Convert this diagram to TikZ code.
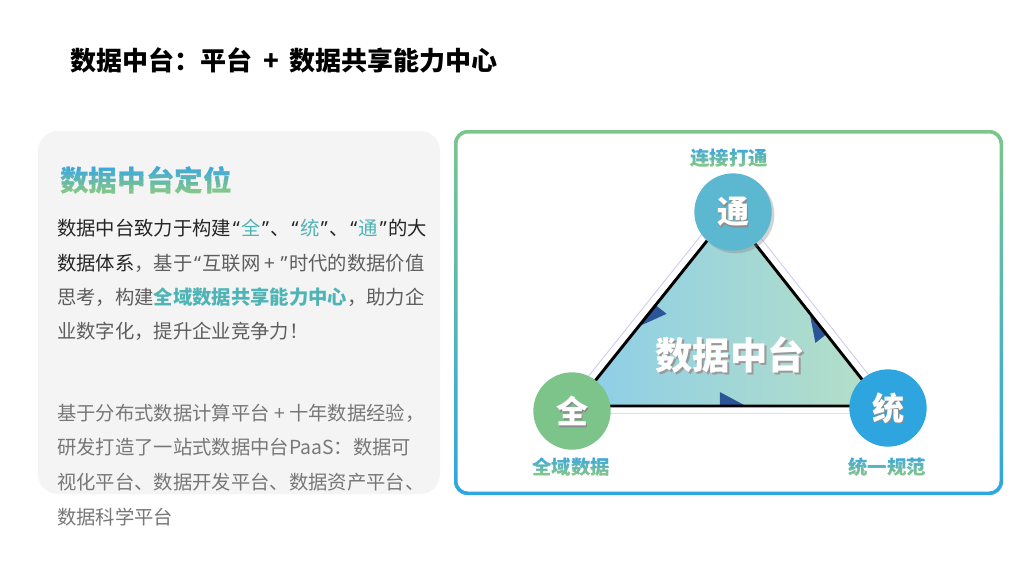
\documentclass[tikz,border=0pt]{standalone}
\usepackage{fontspec}
\setmainfont{Noto Sans CJK SC}
\newfontfamily\latf{Noto Sans}
\usetikzlibrary{calc,shadows}
\definecolor{dk}{HTML}{262626}
\definecolor{gr}{HTML}{5E5E5E}
\definecolor{lg}{HTML}{777777}
\definecolor{hl}{HTML}{4FB4B6}
\definecolor{gtop}{HTML}{3EA8DA}
\definecolor{gbot}{HTML}{82C68A}
\definecolor{panel}{HTML}{F4F4F4}
\definecolor{bgreen}{HTML}{7CC68B}
\definecolor{bblue}{HTML}{2EA6E0}
\definecolor{triL}{HTML}{8CCDE8}
\definecolor{triR}{HTML}{B6E0C6}
\definecolor{arrc}{HTML}{2C5597}
\definecolor{ctong}{HTML}{5BB8D0}
\definecolor{cquan}{HTML}{7DC48A}
\definecolor{ctong2}{HTML}{2EA5DE}
\definecolor{faintA}{HTML}{CBC7F5}
\definecolor{faintB}{HTML}{C3EDF5}
\newcommand\qq[1]{\makebox[0.52em][c]{\latf #1}}
\newcommand\hlt[1]{{\color{hl}#1}}
% gradient text: name, position, style, text
\newcommand\gtext[4]{%
  \node[#3] (#1) at #2 {\phantom{#4}};
  \foreach \i in {0,...,5}{%
    \pgfmathsetmacro\pa{\i/6}%
    \pgfmathsetmacro\pb{(\i+1)/6}%
    \pgfmathsetmacro\pc{100-\i*100/5}%
    \begin{scope}
      \clip ($(#1.north west)!\pa!(#1.south west)+(-2,0)$) rectangle ($(#1.north east)!\pb!(#1.south east)+(2,0)$);
      \node[#3,text=gtop!\pc!gbot] at #2 {#4};
    \end{scope}}%
}
\begin{document}
\begin{tikzpicture}[x=0.75pt,y=-0.75pt,
  body/.style={anchor=west,inner sep=0pt,font=\fontsize{14.5}{14.5}\selectfont},
  lbl/.style={inner sep=0pt,font=\bfseries\fontsize{14.5}{14.5}\selectfont},
  circ/.style={circle,inner sep=0pt,minimum size=58pt},
  ctext/.style={inner sep=0pt,text=white,font=\bfseries\fontsize{24}{24}\selectfont},
  cshad/.style={inner sep=0pt,text=black!45,font=\bfseries\fontsize{24}{24}\selectfont},
  arr/.style={fill=arrc},
  faint/.style={line width=0.6pt}
]
\useasboundingbox (0,0) rectangle (1024,576);
\fill[white] (0,0) rectangle (1024,576);

% title
\node[anchor=west,inner sep=0pt,font=\bfseries\fontsize{19.5}{19.5}\selectfont,text=black] (title) at (70,60)
  {数据中台：平台\hspace{0.42em}+\hspace{0.42em}数据共享能力中心};

% left panel
\fill[panel,rounded corners=15pt] (38,131) rectangle (440,494);
\gtext{head}{(60,180)}{anchor=west,inner sep=0pt,font=\bfseries\fontsize{21.5}{21.5}\selectfont}{数据中台定位}

\node[body,text=dk] (l1) at (57,228) {数据中台致力于构建\qq{“}\hlt{全}\qq{”}、\qq{“}\hlt{统}\qq{”}、\qq{“}\hlt{通}\qq{”}的大};
\node[body,text=gr] (l2) at (57,263) {{\color{dk}数据体系}，基于\qq{“}互联网\hspace{0.2em}+\hspace{0.2em}\qq{”}时代的数据价值};
\node[body,text=gr] (l3) at (57,297) {思考，构建{\bfseries\color{hl}全域数据共享能力中心}，助力企};
\node[body,text=gr] (l4) at (57,331) {业数字化，提升企业竞争力！};

\node[body,text=lg] (m1) at (57,413) {基于分布式数据计算平台 + 十年数据经验，};
\node[body,text=lg] (m2) at (57,447) {研发打造了一站式数据中台PaaS：数据可};
\node[body,text=lg] (m3) at (57,482) {视化平台、数据开发平台、数据资产平台、};
\node[body,text=lg] (m4) at (57,517) {数据科学平台};

% right panel with gradient border
\shade[top color=bgreen,bottom color=bblue,rounded corners=10pt] (454,130) rectangle (1003,495);
\fill[white,rounded corners=8pt] (457.5,133.5) rectangle (999.5,491.5);

% triangle vertices
\coordinate (vA) at (575,406);
\coordinate (vB) at (883,406);
\coordinate (vC) at (730,212);

% faint outer lines
\draw[faint,faintA] ($(vA)+(-6.3,-5)$) coordinate (fa1) -- ($(vC)+(-6.3,-5)$) coordinate (fa2);
\draw[faint,faintA] ($(vB)+(6.3,-5)$) coordinate (fb1) -- ($(vC)+(6.3,-5)$) coordinate (fb2);
\draw[faint,faintB] ($(vA)+(0,7)$) coordinate (fc1) -- ($(vB)+(0,7)$) coordinate (fc2);

% triangle fill
\shade[left color=triL,right color=triR] (vA) -- (vB) -- (vC) -- cycle;

% direction arrows
\fill[arr] ($(vC)!0.48!(vA)$) coordinate (a1t) -- ($(vC)!0.59!(vA)$) coordinate (a1h) -- ($(a1t)!10.5pt!90:(a1h)$) -- cycle;
\fill[arr] ($(vA)!0.47!(vB)$) coordinate (a2t) -- ($(vA)!0.555!(vB)$) coordinate (a2h) -- ($(a2t)!10.5pt!90:(a2h)$) -- cycle;
\fill[arr] ($(vB)!0.37!(vC)$) coordinate (a3t) -- ($(vB)!0.48!(vC)$) coordinate (a3h) -- ($(a3t)!10.5pt!90:(a3h)$) -- cycle;

% triangle stroke
\draw[line width=2.2pt,black,line join=round] (vA) -- (vB) -- (vC) -- cycle;

% centre text
\node[inner sep=0pt,text=black!40,font=\bfseries\fontsize{28}{28}\selectfont] (cts) at (732,357) {数据中台};
\node[inner sep=0pt,text=white,font=\bfseries\fontsize{28}{28}\selectfont] (ct) at (730,355) {数据中台};

% circles
\node[circ,fill=ctong,drop shadow={shadow xshift=2pt,shadow yshift=-2pt,opacity=0.35}] (ntong) at (733,212) {};
\node[circ,fill=cquan] (nquan) at (572,411) {};
\node[circ,fill=ctong2] (ntong2) at (888,408) {};

\node[cshad] at ($(ntong)+(1.6,1.6)$) {通};
\node[ctext] (ttong) at (ntong) {通};
\node[cshad] at ($(nquan)+(1.6,1.6)$) {全};
\node[ctext] (tquan) at (nquan) {全};
\node[cshad] at ($(ntong2)+(1.6,1.6)$) {统};
\node[ctext] (ttong2) at (ntong2) {统};

% labels
\gtext{ltong}{(729,158)}{lbl}{连接打通}
\gtext{lquan}{(571,467)}{lbl}{全域数据}
\gtext{ltong2}{(887,467)}{lbl}{统一规范}
\end{tikzpicture}
\end{document}
